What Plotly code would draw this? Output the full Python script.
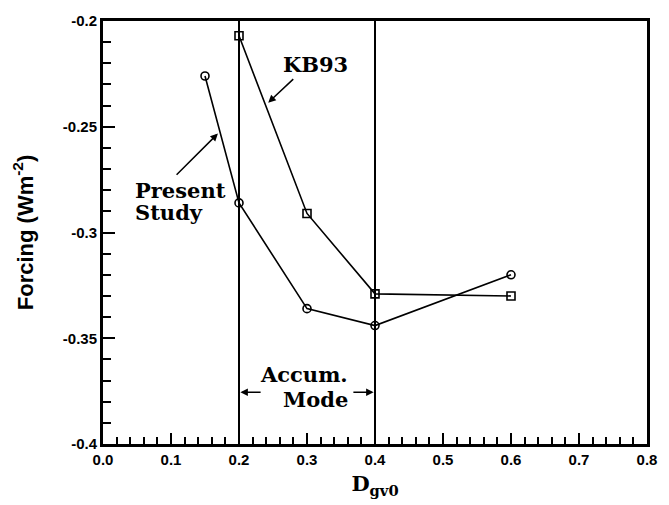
import plotly.graph_objects as go

# ---- data ----
present_x = [0.15, 0.2, 0.3, 0.4, 0.6]
present_y = [-0.226, -0.286, -0.336, -0.344, -0.320]
kb93_x = [0.2, 0.3, 0.4, 0.6]
kb93_y = [-0.207, -0.291, -0.329, -0.330]
mode_bounds = [0.2, 0.4]
x_ticks = [0.0, 0.1, 0.2, 0.3, 0.4, 0.5, 0.6, 0.7, 0.8]
x_ticklabels = ["0.0", "0.1", "0.2", "0.3", "0.4", "0.5", "0.6", "0.7", "0.8"]
y_ticks = [-0.4, -0.35, -0.3, -0.25, -0.2]
y_ticklabels = ["-0.4", "-0.35", "-0.3", "-0.25", "-0.2"]

SERIF = "DejaVu Serif"
SANS = "Liberation Sans, Arial"

fig = go.Figure()
fig.add_trace(go.Scatter(
    x=present_x, y=present_y, mode="lines+markers",
    line=dict(color="black", width=1.6),
    marker=dict(symbol="circle-open", size=8, color="black", line=dict(width=1.6)),
    showlegend=False))
fig.add_trace(go.Scatter(
    x=kb93_x, y=kb93_y, mode="lines+markers",
    line=dict(color="black", width=1.6),
    marker=dict(symbol="square-open", size=8, color="black", line=dict(width=1.6)),
    showlegend=False))

for xb in mode_bounds:
    fig.add_shape(type="line", xref="x", yref="paper", x0=xb, x1=xb, y0=0, y1=1,
                  line=dict(color="black", width=2))

ann_font = dict(family=SERIF, size=21, color="black", weight="bold")
fig.add_annotation(x=0.312, y=-0.2207, xref="x", yref="y", text="KB93",
                   showarrow=False, font=ann_font)
fig.add_annotation(x=0.243, y=-0.2386, ax=0.282, ay=-0.2268, xref="x", yref="y",
                   axref="x", ayref="y", text="", showarrow=True,
                   arrowhead=2, arrowsize=1, arrowwidth=1.5, arrowcolor="black")
fig.add_annotation(x=(133 - 103) / 680, y=-0.2800, xref="x", yref="y", text="Present",
                   xanchor="left", showarrow=False, font=ann_font)
fig.add_annotation(x=(133 - 103) / 680, y=-0.2905, xref="x", yref="y", text="Study",
                   xanchor="left", showarrow=False, font=ann_font)
fig.add_annotation(x=0.169, y=-0.2532, ax=0.106, ay=-0.2734, xref="x", yref="y",
                   axref="x", ayref="y", text="", showarrow=True,
                   arrowhead=2, arrowsize=1, arrowwidth=1.5, arrowcolor="black")
fig.add_annotation(x=0.295, y=-0.3672, xref="x", yref="y", text="Accum.",
                   showarrow=False, font=ann_font)
fig.add_annotation(x=0.313, y=-0.3790, xref="x", yref="y", text="Mode",
                   showarrow=False, font=ann_font)
fig.add_annotation(x=mode_bounds[0] + 0.002, y=-0.3755, ax=0.234, ay=-0.3755, xref="x", yref="y",
                   axref="x", ayref="y", text="", showarrow=True,
                   arrowhead=2, arrowsize=1, arrowwidth=1.5, arrowcolor="black")
fig.add_annotation(x=mode_bounds[1] - 0.002, y=-0.3755, ax=0.366, ay=-0.3755, xref="x", yref="y",
                   axref="x", ayref="y", text="", showarrow=True,
                   arrowhead=2, arrowsize=1, arrowwidth=1.5, arrowcolor="black")

tick_font = dict(family=SANS, size=15, color="black", weight="bold")
fig.update_xaxes(
    range=[0, 0.8], tickvals=x_ticks, ticktext=x_ticklabels,
    ticks="inside", ticklen=11, tickwidth=2, tickcolor="black",
    minor=dict(dtick=0.02, ticks="inside", ticklen=7, tickwidth=2, tickcolor="black", showgrid=False),
    showline=True, linecolor="black", linewidth=3, mirror=True,
    showgrid=False, zeroline=False, tickfont=tick_font,
    title=dict(text="D<sub>gv0</sub>", font=dict(family=SERIF, size=21, color="black", weight="bold"),
               standoff=10))
fig.update_yaxes(
    range=[-0.4, -0.2], tickvals=y_ticks, ticktext=y_ticklabels,
    ticks="inside", ticklen=12, tickwidth=2, tickcolor="black",
    minor=dict(dtick=0.01, ticks="inside", ticklen=8, tickwidth=2, tickcolor="black", showgrid=False),
    showline=True, linecolor="black", linewidth=3, mirror=True,
    showgrid=False, zeroline=False, tickfont=tick_font,
    title=dict(text="Forcing (Wm<sup>-2</sup>)", font=dict(family=SANS, size=22, color="black", weight="bold"),
               standoff=24))
fig.update_layout(
    width=669, height=505,
    margin=dict(l=103, r=21, t=20, b=60),
    plot_bgcolor="white", paper_bgcolor="white")

fig.write_html("out.html")
